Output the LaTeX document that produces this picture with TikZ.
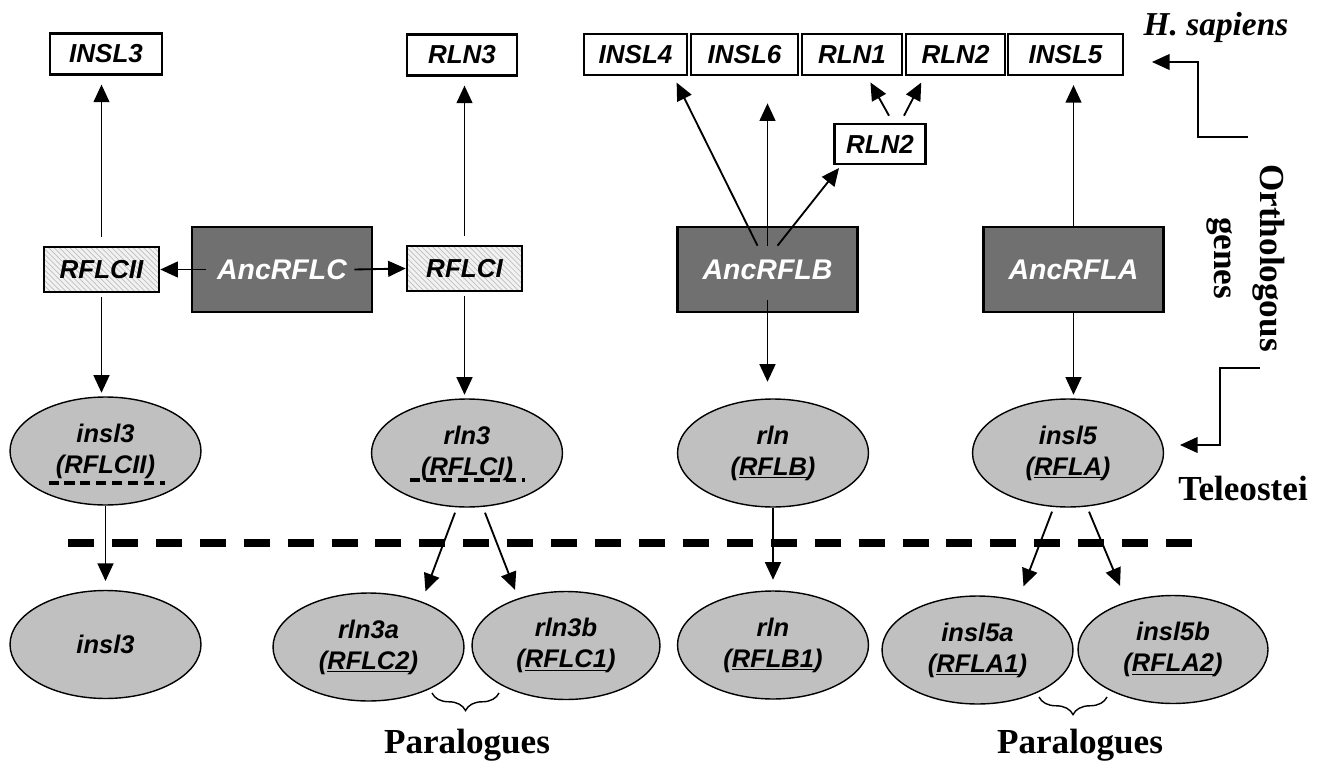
\documentclass[tikz,border=0pt]{standalone}
\usepackage{fontspec}
\setmainfont{Liberation Serif}
\newfontfamily\genefont{Liberation Sans}
\usetikzlibrary{shapes.geometric}
\usetikzlibrary{arrows.meta}
\usetikzlibrary{patterns}
\usetikzlibrary{decorations.pathreplacing}

\definecolor{ancgray}{RGB}{112,112,112}
\definecolor{ovalgray}{RGB}{192,192,192}

\tikzset{
  gene/.style={draw, line width=1.5pt, fill=white, inner sep=0pt, minimum height=0.82cm,
    font=\genefont\bfseries\itshape\fontsize{14.8}{17}\selectfont},
  hatched/.style={draw, line width=1.5pt, inner sep=0pt, minimum width=2.3cm, minimum height=0.9cm,
    preaction={fill=gray!10}, pattern=north west lines, pattern color=gray!50,
    font=\genefont\bfseries\itshape\fontsize{14.8}{17}\selectfont},
  anc/.style={draw, line width=1.5pt, fill=ancgray, text=white, inner sep=0pt,
    minimum width=3.6cm, minimum height=1.7cm,
    font=\genefont\bfseries\itshape\fontsize{16.2}{19}\selectfont},
  oval/.style={draw, ellipse, line width=0.8pt, fill=ovalgray, inner sep=0pt,
    minimum width=3.82cm, minimum height=2.16cm, align=center,
    font=\genefont\bfseries\itshape\fontsize{14.5}{17.6}\selectfont},
  arr/.style={-{Triangle[length=10pt,width=9pt]}, line width=1.05pt},
  taxon/.style={font=\bfseries\fontsize{20}{26}\selectfont},
  split/.style={line width=4.5pt, dash pattern=on 14.8pt off 10.2pt},
  weak/.style={line width=2.3pt, dash pattern=on 5.7pt off 3.4pt},
  paren/.style={decorate, decoration={brace, mirror, amplitude=10pt}, line width=0.8pt}
}

\begin{document}
\begin{tikzpicture}[x=0.02cm, y=-0.02cm]
  \useasboundingbox (0,0) rectangle (1324,763);

  % Human genes
  \node[gene, minimum width=2.24cm] (insl3h) at (106,54) {INSL3};
  \node[gene, minimum width=2.2cm] (rln3h) at (462,55) {RLN3};
  \node[gene, minimum width=2.06cm] (insl4) at (635.5,54.5) {INSL4};
  \node[gene, minimum width=2.14cm] (insl6) at (744.5,54.5) {INSL6};
  \node[gene, minimum width=2.0cm] (rln1) at (852,54.5) {RLN1};
  \node[gene, minimum width=1.98cm] (rln2t) at (955.5,54.5) {RLN2};
  \node[gene, minimum width=2.3cm] (insl5h) at (1065.5,54.5) {INSL5};
  \node[gene, minimum width=1.82cm, minimum height=0.8cm] (rln2s) at (880,144) {RLN2};

  % Ancestral genes
  \node[hatched] (rflcII) at (101.5,269.5) {RFLCII};
  \node[anc] (ancC) at (282,269.5) {AncRFLC};
  \node[hatched] (rflcI) at (464.5,268.5) {RFLCI};
  \node[anc] (ancB) at (767.5,269.5) {AncRFLB};
  \node[anc] (ancA) at (1073.5,269.5) {AncRFLA};

  % Teleost genes
  \node[oval] (insl3t) at (105.5,451) {insl3\\(RFLCII)};
  \node[oval] (rln3t) at (467,453) {rln3\\(RFLCI)};
  \node[oval] (rlnt) at (773,453) {rln\\(\underline{RFLB})};
  \node[oval] (insl5t) at (1068,453) {insl5\\(\underline{RFLA})};
  \draw[weak] ([shift={(-57,32)}]insl3t.center) -- ([shift={(59,32)}]insl3t.center);
  \draw[weak] ([shift={(-57,27)}]rln3t.center) -- ([shift={(58,27)}]rln3t.center);

  % Duplicated genes
  \node[oval] (insl3b) at (105.5,644.5) {insl3};
  \node[oval] (rln3a) at (368.5,647) {rln3a\\(\underline{RFLC2})};
  \node[oval, minimum width=3.76cm] (rln3b) at (566,645.5) {rln3b\\(\underline{RFLC1})};
  \node[oval] (rlnb) at (773,645) {rln\\(\underline{RFLB1})};
  \node[oval] (insl5a) at (977.5,650) {insl5a\\(\underline{RFLA1})};
  \node[oval, minimum width=3.8cm] (insl5b) at (1173,649.5) {insl5b\\(\underline{RFLA2})};

  % Genome duplication
  \draw[split] (68,543) -- (1193,543);

  % Arrows of the RFLC branch
  \draw[arr, shorten <=5pt, shorten >=5pt] (rflcII.north) -- (rflcII.north |- insl3h.south);
  \draw[arr, shorten <=2pt, shorten >=2pt] (rflcII.south) -- (rflcII.south |- insl3t.north);
  \draw[arr] ([shift={(15,0)}]ancC.west) -- (rflcII.east);
  \draw[arr] ([shift={(-19,0)}]ancC.east) -- (rflcI.west);
  \draw[arr, shorten <=5pt, shorten >=5pt] (rflcI.north) -- (rflcI.north |- rln3h.south);
  \draw[arr, shorten <=2pt, shorten >=2pt] (rflcI.south) -- (rflcI.south |- rln3t.north);

  % Arrows of the RFLB branch
  \draw[arr, shorten >=4pt] ([shift={(-10,20)}]ancB.north) -- ([shift={(38,0)}]insl4.south);
  \draw[arr, shorten >=4pt] ([shift={(0,20)}]ancB.north) -- ([shift={(0,20)}]ancB.north |- insl6.south);
  \draw[arr, shorten >=2pt] ([shift={(10,20)}]ancB.north) -- ([shift={(8,0)}]rln2s.south west);
  \draw[arr, shorten >=4pt] ([shift={(9,-7)}]rln2s.north) -- ([shift={(15,0)}]rln1.south);
  \draw[arr, shorten >=4pt] ([shift={(24,-7)}]rln2s.north) -- ([shift={(-31,0)}]rln2t.south);
  \draw[arr, shorten >=2pt] ([shift={(0,-13)}]ancB.south) -- ([shift={(0,-13)}]ancB.south |- rlnt.north);

  % Arrows of the RFLA branch
  \draw[arr, shorten >=5pt] (ancA.north) -- (ancA.north |- insl5h.south);
  \draw[arr, shorten >=2pt] (ancA.south) -- (ancA.south |- insl5t.north);

  % Arrows across the duplication
  \draw[arr, shorten >=5pt] (insl3t.south) -- (insl3t.south |- insl3b.north);
  \draw[arr, shorten >=6pt] (rlnt.south) -- (rlnt.south |- rlnb.north);
  \draw[arr] ([shift={(-12,5)}]rln3t.south) -- ([shift={(57,-1)}]rln3a.north);
  \draw[arr] ([shift={(18,5)}]rln3t.south) -- ([shift={(-51,-1)}]rln3b.north);
  \draw[arr] ([shift={(-16,4)}]insl5t.south) -- ([shift={(46,-9)}]insl5a.north);
  \draw[arr] ([shift={(21,4)}]insl5t.south) -- ([shift={(-53,-9)}]insl5b.north);

  % Paralogues
  \coordinate (brC1) at (432,693);
  \coordinate (brC2) at (499,693);
  \coordinate (brA1) at (1039,697);
  \coordinate (brA2) at (1107,697);
  \draw[paren] (brC1) -- (brC2);
  \draw[paren] (brA1) -- (brA2);
  \node[taxon] (paraC) at (467,745) {Paralogues};
  \node[taxon] (paraA) at (1080,745) {Paralogues};

  % Taxa
  \node[taxon, font=\bfseries\itshape\fontsize{19}{23}\selectfont] (sapiens) at (1216,27) {H. sapiens};
  \node[taxon, rotate=-90, align=center] (orth) at (1246,258) {Orthologous\\genes};
  \node[taxon] (teleo) at (1243,488) {Teleostei};

  \coordinate (hsFrom) at (1248,137);
  \coordinate (hsTo) at (1152,62);
  \coordinate (tlFrom) at (1260,368);
  \coordinate (tlTo) at (1180,445);
  \draw[arr, line width=0.7pt] (hsFrom) -- (1198,137) |- (hsTo);
  \draw[arr, line width=0.7pt] (tlFrom) -- (1220,368) |- (tlTo);
\end{tikzpicture}
\end{document}
